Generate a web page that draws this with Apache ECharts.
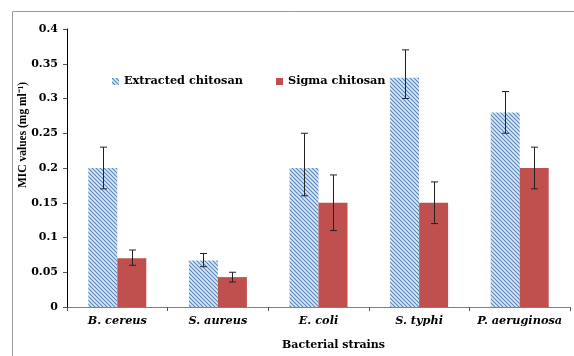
<!DOCTYPE html>
<html><head><meta charset="utf-8">
<script src="https://cdn.jsdelivr.net/npm/echarts@6/dist/echarts.min.js"></script>
<style>html,body{margin:0;padding:0;background:#fff;overflow:hidden}#c{width:574px;height:356px}</style>
</head><body><div id="c"></div>
<script>
var categories = ['B. cereus', 'S. aureus', 'E. coli', 'S. typhi', 'P. aeruginosa'];
var extracted = [0.2, 0.067, 0.2, 0.33, 0.28];
var extractedLow = [0.17, 0.058, 0.16, 0.30, 0.25];
var extractedHigh = [0.23, 0.077, 0.25, 0.37, 0.31];
var sigma = [0.07, 0.043, 0.15, 0.15, 0.2];
var sigmaLow = [0.06, 0.036, 0.11, 0.12, 0.17];
var sigmaHigh = [0.082, 0.05, 0.19, 0.18, 0.23];
var yTicks = [0, 0.05, 0.1, 0.15, 0.2, 0.25, 0.3, 0.35, 0.4];

var pc = document.createElement('canvas');
pc.width = 4; pc.height = 4;
var g = pc.getContext('2d');
g.fillStyle = '#dfe8f5'; g.fillRect(0,0,4,4);
g.strokeStyle = '#5585c4'; g.lineWidth = 1.1;
g.beginPath();
g.moveTo(-1,-1); g.lineTo(5,5);
g.moveTo(-1,3); g.lineTo(1,5);
g.moveTo(3,-1); g.lineTo(5,1);
g.stroke();

var font = '"DejaVu Serif", serif';
var tfont = '"Liberation Serif", "Times New Roman", serif';
var chart = echarts.init(document.getElementById('c'));
var barW = 29;
function errSeries(data, low, high, off) {
  return {
    type: 'custom', z: 10,
    data: data.map(function(v,i){ return [i, low[i], high[i]]; }),
    renderItem: function(params, api) {
      var i = api.value(0);
      var p1 = api.coord([i, api.value(2)]);
      var p2 = api.coord([i, api.value(1)]);
      var x = Math.round(p1[0] + off) + 0.5;
      var c = 3.5;
      var st = {stroke: '#222', lineWidth: 1};
      return {type: 'group', children: [
        {type: 'line', shape: {x1: x, y1: p1[1], x2: x, y2: p2[1]}, style: st},
        {type: 'line', shape: {x1: x-c, y1: p1[1], x2: x+c, y2: p1[1]}, style: st},
        {type: 'line', shape: {x1: x-c, y1: p2[1], x2: x+c, y2: p2[1]}, style: st}
      ]};
    }
  };
}
var legText = {fontFamily: font, fontWeight: 'bold', fontSize: 11.3, color: '#000'};
chart.setOption({
  animation: false,
  textStyle: {fontFamily: font},
  grid: {left: 67, right: 4, top: 29, bottom: 47},
  legend: [
    {top: 71, left: 107, itemWidth: 7, itemHeight: 7, icon: 'rect', itemGap: 5,
      textStyle: legText, data: ['Extracted chitosan']},
    {top: 71, left: 271, itemWidth: 7, itemHeight: 7, icon: 'rect', itemGap: 5,
      textStyle: legText, data: ['Sigma chitosan']}
  ],
  xAxis: {
    type: 'category', data: categories,
    axisLine: {lineStyle: {color: '#808080'}},
    axisTick: {show: true, alignWithLabel: false, length: 4, lineStyle: {color: '#555'}},
    axisLabel: {interval: 0, fontFamily: font, fontWeight: 'bold', fontStyle: 'italic', fontSize: 11.3, color: '#000', margin: 9},
    name: 'Bacterial strains', nameLocation: 'middle', nameGap: 33,
    nameTextStyle: {fontFamily: font, fontWeight: 'bold', fontSize: 11, color: '#000', padding: [0, 0, 0, 30]}
  },
  yAxis: {
    type: 'value', min: 0, max: 0.4, interval: 0.05,
    axisLine: {show: true, lineStyle: {color: '#000'}},
    axisTick: {show: true, length: 4, lineStyle: {color: '#555'}},
    splitLine: {show: false},
    axisLabel: {fontFamily: font, fontWeight: 'bold', fontSize: 11, color: '#000', margin: 9,
      formatter: function(v){ return String(+v.toFixed(2)); }}
  },
  graphic: [
    {type: 'line', shape: {x1: 12.5, y1: 11.5, x2: 574, y2: 11.5}, style: {stroke: '#9a9a9a', lineWidth: 1}, silent: true},
    {type: 'line', shape: {x1: 12.5, y1: 11.5, x2: 12.5, y2: 356}, style: {stroke: '#9a9a9a', lineWidth: 1}, silent: true},
    {type: 'text', x: 23, y: 135, rotation: Math.PI/2, style: {text: 'MIC values (mg ml\u207B\u00B9)', font: 'bold 11.5px ' + tfont, fill: '#000', align: 'center', verticalAlign: 'middle'}}
  ],
  series: [
    {name: 'Extracted chitosan', type: 'bar', data: extracted, barWidth: barW, barGap: '0%',
      itemStyle: {color: {image: pc, repeat: 'repeat'}}},
    {name: 'Sigma chitosan', type: 'bar', data: sigma, barWidth: barW,
      itemStyle: {color: '#c0504d'}},
    errSeries(extracted, extractedLow, extractedHigh, -barW/2),
    errSeries(sigma, sigmaLow, sigmaHigh, barW/2)
  ]
});
</script></body></html>
